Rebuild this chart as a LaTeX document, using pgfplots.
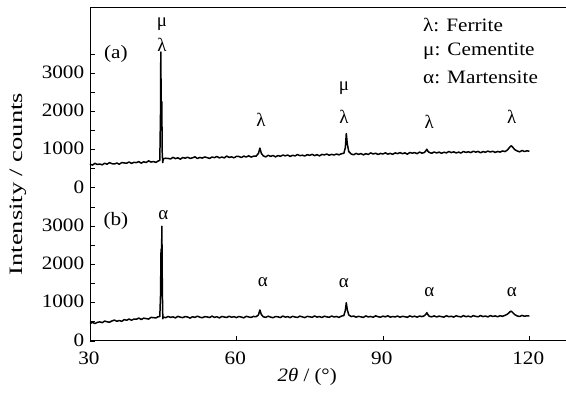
\documentclass[border=0pt]{standalone}
\usepackage{pgfplots}
\pgfplotsset{compat=1.18}
\usepackage{pgfplotstable}
\usepackage{fontspec}
\setmainfont{Liberation Serif}
\usepackage{graphicx}
\newcommand\lab{\fontsize{19}{21}\selectfont}

\pgfplotstableread{
x c
30 622
30.5 595
31 641
31.5 612
32 624
32.5 602
33 644
33.5 619
34 661
34.5 632
35 624
35.5 650
36 618
36.5 661
37 652
37.5 644
38 677
38.5 640
39 667
39.5 661
40 685
40.5 646
41 684
41.5 663
42 706
42.5 675
43 688
43.5 667
44 705
44.3 720
44.45 2000
44.5 3550
44.6 1950
44.7 2250
44.8 900
44.9 660
45.0 760
45.5 775
46 770
46.5 756
47 797
47.5 766
48 785
48.5 750
49 793
49.5 776
50 801
50.5 770
51 786
51.5 811
52 767
52.5 796
53 779
53.5 808
54 791
54.5 770
55 806
55.5 790
56 821
56.5 784
57 807
57.5 784
58 830
58.5 797
59 810
59.5 786
60 824
60.5 820
61 793
61.5 830
62 807
62.5 839
63 805
63.5 827
64 827
64.5 900
64.8 1040
65.1 900
65.5 837
66 810
66.5 852
67 824
67.5 846
68 810
68.5 845
69 825
69.5 858
70 837
70.5 858
71 822
71.5 852
72 835
72.5 872
73 841
73.5 854
74 833
74.5 868
75 850
75.5 877
76 842
76.5 869
77 836
77.5 875
78 862
78.5 883
79 854
79.5 875
80 860
80.5 885
81 863
81.5 892
82 905
82.3 1050
82.5 1420
82.7 1150
83.0 950
83.5 885
84 865
84.5 901
85 876
85.5 895
86 863
86.5 894
87 874
87.5 914
88 886
88.5 906
89 873
89.5 900
90 885
90.5 917
91 881
91.5 902
92 877
92.5 914
93 895
93.5 922
94 893
94.5 915
95 881
95.5 925
96 907
96.5 922
97 894
97.5 936
98 907
98.5 926
98.8 970
99.0 1010
99.2 960
99.5 924
100 906
100.5 938
101 913
101.5 935
102 904
102.5 932
103 914
103.5 951
104 922
104.5 942
105 913
105.5 935
106 910
106.5 952
107 926
107.5 945
108 921
108.5 958
109 934
109.5 953
110 917
110.5 949
111 931
111.5 961
112 937
112.5 957
113 927
113.5 952
114 935
114.5 965
115 948
115.5 990
116 1070
116.3 1100
116.6 1060
117 1000
117.5 964
118 942
118.5 977
119 950
119.5 970
120 955
}\uppertab

\pgfplotstableread{
x c
30 456
30.5 487
31 455
31.5 487
32 499
32.5 479
33 520
33.5 501
34 491
34.5 524
35 546
35.5 515
36 535
36.5 513
37 558
37.5 542
38 573
38.5 543
39 573
39.5 568
40 599
40.5 562
41 597
41.5 585
42 573
42.5 617
43 610
43.5 602
44 637
44.3 640
44.45 1200
44.55 2400
44.62 1600
44.72 3000
44.82 1300
44.92 580
45.0 625
45.5 610
46 641
46.5 618
47 630
47.5 603
48 645
48.5 622
49 611
49.5 639
50 626
50.5 598
51 634
51.5 617
52 648
52.5 622
53 607
53.5 636
54 629
54.5 612
55 650
55.5 618
56 633
56.5 603
57 641
57.5 627
58 614
58.5 647
59 620
59.5 636
60 611
60.5 640
61 625
61.5 605
62 646
62.5 628
63 616
63.5 642
64 633
64.5 680
64.8 810
65.1 690
65.5 632
66 618
66.5 648
67 624
67.5 609
68 640
68.5 631
69 612
69.5 652
70 623
70.5 637
71 610
71.5 645
72 626
72.5 616
73 650
73.5 629
74 612
74.5 644
75 633
75.5 618
76 655
76.5 624
77 640
77.5 613
78 648
78.5 630
79 619
79.5 652
80 627
80.5 641
81 616
81.5 650
82 665
82.3 800
82.5 1000
82.7 820
83 680
83.5 638
84 652
84.5 622
85 645
85.5 630
86 617
86.5 655
87 628
87.5 641
88 620
88.5 657
89 634
89.5 622
90 649
90.5 631
91 659
91.5 624
92 640
92.5 627
93 653
93.5 621
94 645
94.5 634
95 618
95.5 656
96 630
96.5 648
97 622
97.5 652
98 637
98.5 660
98.8 700
99 740
99.2 690
99.5 645
100 631
100.5 656
101 628
101.5 650
102 636
102.5 624
103 660
103.5 633
104 647
104.5 625
105 658
105.5 640
106 629
106.5 662
107 635
107.5 650
108 627
108.5 661
109 644
109.5 632
110 665
110.5 637
111 652
111.5 630
112 664
112.5 641
113 656
113.5 633
114 660
114.5 645
115 670
115.5 700
116 760
116.3 780
116.6 740
117 690
117.5 655
118 640
118.5 668
119 646
119.5 660
120 652
}\lowertab

\begin{document}
\begin{tikzpicture}
\begin{axis}[
  scale only axis, width=476bp, height=333bp,
  xmin=30, xmax=127.5, ymin=0, ymax=8700,
  axis x line*=box, axis y line*=left,
  axis line style={-, line width=1pt, black},
  xtick={30,60,90,120}, xtick pos=bottom,
  ytick={0,1000,2000,3000,4000,5000,6000,7000},
  yticklabels={0,1000,2000,3000,0,1000,2000,3000},
  minor ytick={500,1500,2500,3500,4500,5500,6500,7500},
  ytick pos=left,
  tick align=inside,
  major tick length=5bp, minor tick length=5bp,
  every tick/.style={line width=0.8pt, black},
  /pgf/number format/assume math mode=true,
  tick label style={font=\lab, xscale=1.12, inner sep=1pt},
  xticklabel style={anchor=north, yshift=-10bp, xshift=-1bp},
  yticklabel style={anchor=east, xshift=-4bp, yshift=1bp},
  clip=false,
]
\addplot[black, line width=1.5pt, line join=round] table[x=x, y expr=\thisrow{c}+4000] {\uppertab};
\addplot[black, line width=1.5pt, line join=round] table[x=x, y=c] {\lowertab};

\coordinate (SW) at (rel axis cs:0,0);
\coordinate (NE) at (rel axis cs:1,1);

\node[rotate=90, font=\lab] at ([xshift=-72bp]rel axis cs:0,0.471) {\scalebox{1.4}[1]{Intensity / counts}};
\node[font=\lab, xscale=1.1] at ([yshift=-36bp]axis cs:74.5,0) {\textit{2θ} / (°)};

\node[font=\lab, xscale=1.12] at (axis cs:35.3,7500) {(a)};
\node[font=\lab, xscale=1.12] at (axis cs:35.3,3130) {(b)};

\node[font=\lab] at (axis cs:44.75,8277) {μ};
\node[font=\lab] at (axis cs:44.75,7728) {λ};
\node[font=\lab] at (axis cs:65.0,5770) {λ};
\node[font=\lab] at (axis cs:82.0,6606) {μ};
\node[font=\lab] at (axis cs:82.0,5849) {λ};
\node[font=\lab] at (axis cs:99.5,5718) {λ};
\node[font=\lab] at (axis cs:116.4,5849) {λ};

\node[font=\lab] at (axis cs:45.0,3290) {α};
\node[font=\lab] at (axis cs:65.4,1548) {α};
\node[font=\lab] at (axis cs:82.0,1506) {α};
\node[font=\lab] at (axis cs:99.5,1287) {α};
\node[font=\lab] at (axis cs:116.4,1287) {α};

\node[font=\lab, anchor=west, xscale=1.12, inner sep=0pt] at (axis cs:98.2,8251) {λ: Ferrite};
\node[font=\lab, anchor=west, xscale=1.12, inner sep=0pt] at (axis cs:98.2,7572) {μ: Cementite};
\node[font=\lab, anchor=west, xscale=1.12, inner sep=0pt] at (axis cs:98.2,6893) {α: Martensite};
\end{axis}
\pgfresetboundingbox
\path[use as bounding box] ([xshift=-90bp,yshift=-53bp]SW) rectangle ([yshift=8bp]NE);
\end{tikzpicture}
\end{document}
